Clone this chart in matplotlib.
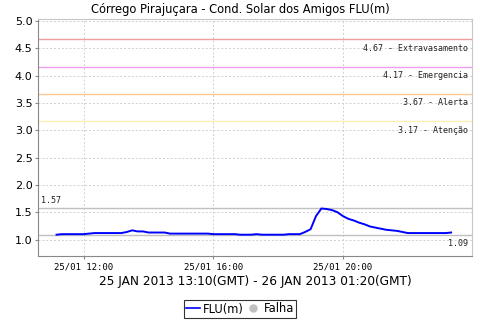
import matplotlib
matplotlib.use("Agg")
import matplotlib.pyplot as plt
import matplotlib.dates as mdates
from matplotlib.lines import Line2D
import numpy as np
import pandas as pd

title = "Córrego Pirajuçara - Cond. Solar dos Amigos FLU(m)"
subtitle = "25 JAN 2013 13:10(GMT) - 26 JAN 2013 01:20(GMT)"

# readings every 10 minutes, local time
start = "2013-01-25 11:10"
flu = [1.09, 1.10, 1.10, 1.10, 1.10, 1.10, 1.11, 1.12, 1.12, 1.12,
       1.12, 1.12, 1.12, 1.14, 1.17, 1.15, 1.15, 1.13, 1.13, 1.13,
       1.13, 1.11, 1.11, 1.11, 1.11, 1.11, 1.11, 1.11, 1.11, 1.10,
       1.10, 1.10, 1.10, 1.10, 1.09, 1.09, 1.09, 1.10, 1.09, 1.09,
       1.09, 1.09, 1.09, 1.10, 1.10, 1.10, 1.14, 1.19, 1.43, 1.57,
       1.56, 1.54, 1.50, 1.43, 1.38, 1.35, 1.31, 1.28, 1.24, 1.22,
       1.20, 1.18, 1.17, 1.16, 1.14, 1.12, 1.12, 1.12, 1.12, 1.12,
       1.12, 1.12, 1.12, 1.13]
times = pd.date_range(start, periods=len(flu), freq="10min")

levels = [4.67, 4.17, 3.67, 3.17]
level_names = ["Extravasamento", "Emergencia", "Alerta", "Atenção"]
level_colors = ["#ee9e9e", "#ee9eee", "#ffc890", "#fff0b0"]

fig = plt.figure(figsize=(4.8, 3.2), dpi=100)
ax = fig.add_axes([38 / 480, 1 - 256 / 320, 434 / 480, 237 / 320])

ax.plot(times, flu, color="#0000ff", lw=1.4, zorder=5)

for v, name, c in zip(levels, level_names, level_colors):
    ax.axhline(v, color=c, lw=1, zorder=2)
    ax.annotate(f"{v:.2f} - {name}", xy=(1, v), xycoords=("axes fraction", "data"),
                xytext=(-3, -6.5), textcoords="offset points", ha="right", va="center",
                fontsize=6, family="DejaVu Sans Mono", color="#222222")

vmax, vmin = max(flu), min(flu)
ax.axhline(vmax, color="#c0c0c0", lw=1, zorder=2)
ax.axhline(vmin, color="#c0c0c0", lw=1, zorder=2)
ax.annotate(f"{vmax:.2f}", xy=(0, vmax), xycoords=("axes fraction", "data"),
            xytext=(2, 6), textcoords="offset points", ha="left", va="center",
            fontsize=6, family="DejaVu Sans Mono", color="#222222")
ax.annotate(f"{vmin:.2f}", xy=(1, vmin), xycoords=("axes fraction", "data"),
            xytext=(-3, -6), textcoords="offset points", ha="right", va="center",
            fontsize=6, family="DejaVu Sans Mono", color="#222222")

ax.set_ylim(0.70, 5.04)
ax.set_yticks(np.arange(1.0, 5.01, 0.5))
ax.yaxis.set_major_formatter(plt.FormatStrFormatter("%.1f"))
ax.set_xlim(pd.Timestamp("2013-01-25 10:35:40"), pd.Timestamp("2013-01-25 23:58:40"))
ax.xaxis.set_major_locator(mdates.HourLocator(byhour=[12, 16, 20]))
ax.xaxis.set_major_formatter(mdates.DateFormatter("%d/%m %H:%M"))

ax.grid(True, color="#d0d0d0", ls=(0, (2, 2)), lw=0.7, zorder=0)
ax.tick_params(axis="y", labelsize=8, length=2, width=0.8, color="#888888", pad=2)
ax.tick_params(axis="x", length=2, width=0.8, color="#888888", pad=3)
for lab in ax.get_xticklabels():
    lab.set_fontsize(6.5)
    lab.set_family("DejaVu Sans Mono")
for side in ["left", "bottom"]:
    ax.spines[side].set_color("#888888")
for side in ["top", "right"]:
    ax.spines[side].set_color("#c8c8c8")

fig.text(0.5, 1 - 9 / 320, title, ha="center", va="center", fontsize=8.3)
fig.text(255 / 480, 1 - 281 / 320, subtitle, ha="center", va="center", fontsize=8.7)

handles = [Line2D([], [], color="#0000ff", lw=1.2),
           Line2D([], [], color="#c0c0c0", marker="o", ls="none", markersize=5)]
leg = fig.legend(handles, ["FLU(m)", "Falha"], loc="center", bbox_to_anchor=(0.5, 1 - 309 / 320),
                 ncol=2, fontsize=8.3, frameon=True, fancybox=False, handlelength=1.2,
                 handletextpad=0.3, columnspacing=0.2, borderpad=0.2, borderaxespad=0)
leg.get_frame().set_edgecolor("black")
leg.get_frame().set_linewidth(0.8)

fig.savefig("out.png", dpi=100)
